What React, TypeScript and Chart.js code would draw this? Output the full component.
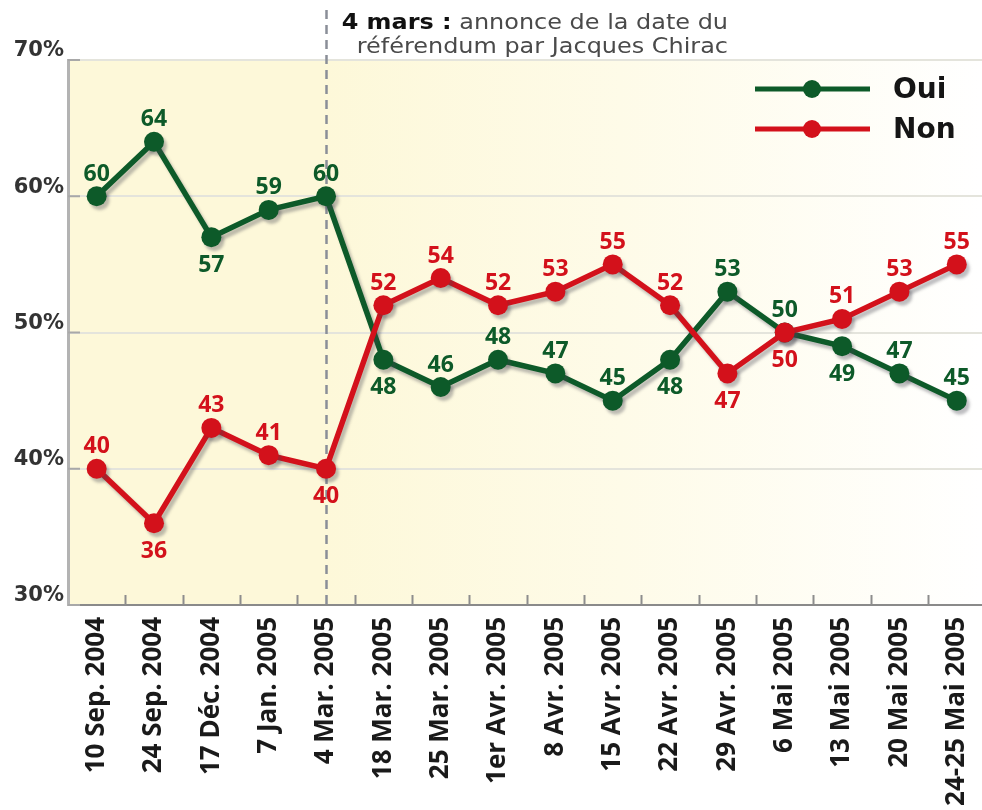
import React, { useEffect, useRef } from 'react';
import { Chart, registerables } from 'chart.js';

Chart.register(...registerables);

// ---- data ----
const DATES = [
  '10 Sep. 2004', '24 Sep. 2004', '17 Déc. 2004', '7 Jan. 2005', '4 Mar. 2005',
  '18 Mar. 2005', '25 Mar. 2005', '1er Avr. 2005', '8 Avr. 2005', '15 Avr. 2005',
  '22 Avr. 2005', '29 Avr. 2005', '6 Mai 2005', '13 Mai 2005', '20 Mai 2005', '24-25 Mai 2005',
];
const OUI = [60, 64, 57, 59, 60, 48, 46, 48, 47, 45, 48, 53, 50, 49, 47, 45];
const NON = [40, 36, 43, 41, 40, 52, 54, 52, 53, 55, 52, 47, 50, 51, 53, 55];
const Y_TICKS = [30, 40, 50, 60, 70];
const ANNOUNCE_INDEX = 4;
const ANNOUNCE_BOLD = '4 mars :';
const ANNOUNCE_LINE1 = ' annonce de la date du';
const ANNOUNCE_LINE2 = 'référendum par Jacques Chirac';

// ---- label placement (style) ----
const OUI_SIDES = ['u', 'u', 'd', 'u', 'u', 'd', 'u', 'u', 'u', 'u', 'd', 'u', 'u', 'd', 'u', 'u'];
const NON_SIDES = ['u', 'd', 'u', 'u', 'd', 'u', 'u', 'u', 'u', 'u', 'u', 'd', 'd', 'u', 'u', 'u'];

const GREEN = '#0d5a29';
const RED = '#d3111b';

const backgroundPlugin = {
  id: 'bg',
  afterLayout(chart: any) {
    // let the plot area run to the right edge of the canvas
    const xs = chart.scales.x;
    const target = chart.width;
    if (xs.right < target) {
      xs.right = target;
      xs.width = target - xs.left;
      xs.configure();
      chart.chartArea.right = target;
      chart.chartArea.width = target - chart.chartArea.left;
    }
  },
  beforeDraw(chart: any) {
    const { ctx, chartArea } = chart;
    const { left, top, right, bottom } = chartArea;
    const xa = chart.scales.x.getPixelForValue(ANNOUNCE_INDEX);
    ctx.save();
    ctx.fillStyle = '#fdf8d9';
    ctx.fillRect(left, top, xa - left, bottom - top);
    const g = ctx.createLinearGradient(xa, 0, right, 0);
    g.addColorStop(0, '#fdf8d9');
    g.addColorStop(0.45, '#fefbe8');
    g.addColorStop(1, '#ffffff');
    ctx.fillStyle = g;
    ctx.fillRect(xa, top, right - xa, bottom - top);
    ctx.restore();
  },
  beforeDatasetsDraw(chart: any) {
    const { ctx, chartArea } = chart;
    const { left, bottom } = chartArea;
    const xs = chart.scales.x;
    const ys = chart.scales.y;
    ctx.save();
    // small tick marks between categories
    ctx.strokeStyle = '#8d8d8d';
    ctx.lineWidth = 2;
    for (let i = 0; i < DATES.length - 1; i++) {
      const px = Math.round(xs.getPixelForValue(i + 0.5)) + 0.5;
      ctx.beginPath();
      ctx.moveTo(px, bottom - 10);
      ctx.lineTo(px, bottom);
      ctx.stroke();
    }
    // small ticks on the y axis
    ctx.strokeStyle = '#a8a8a8';
    Y_TICKS.forEach((v) => {
      const py = ys.getPixelForValue(v);
      ctx.beginPath();
      ctx.moveTo(left, py);
      ctx.lineTo(left + 12, py);
      ctx.stroke();
    });
    // dashed announcement line
    const xa = Math.round(xs.getPixelForValue(ANNOUNCE_INDEX)) + 0.5;
    ctx.strokeStyle = '#8a8e98';
    ctx.lineWidth = 2.5;
    ctx.setLineDash([9, 6]);
    ctx.beginPath();
    ctx.moveTo(xa, 10);
    ctx.lineTo(xa, bottom);
    ctx.stroke();
    ctx.restore();
  },
  beforeDatasetDraw(chart: any) {
    const ctx = chart.ctx;
    ctx.save();
    ctx.shadowColor = 'rgba(70,70,80,0.35)';
    ctx.shadowOffsetX = 3;
    ctx.shadowOffsetY = 4;
    ctx.shadowBlur = 3;
  },
  afterDatasetDraw(chart: any) {
    chart.ctx.restore();
  },
  afterDatasetsDraw(chart: any) {
    const { ctx } = chart;
    ctx.save();
    ctx.font = 'bold 23px "Open Sans"';
    ctx.textAlign = 'center';
    ctx.textBaseline = 'middle';
    chart.data.datasets.forEach((ds: any, di: number) => {
      const meta = chart.getDatasetMeta(di);
      ctx.fillStyle = ds.borderColor;
      meta.data.forEach((pt: any, j: number) => {
        const side = ds.labelSides[j];
        const dy = side === 'u' ? -22 : 28;
        ctx.fillText(String(ds.data[j].y), pt.x, pt.y + dy);
      });
    });
    ctx.restore();
  },
  afterDraw(chart: any) {
    const { ctx } = chart;
    ctx.save();
    // legend
    const order = [...chart.data.datasets].sort((a: any, b: any) => a.legendIndex - b.legendIndex);
    order.forEach((ds: any, k: number) => {
      const y = 89 + k * 40;
      ctx.strokeStyle = ds.borderColor;
      ctx.lineWidth = 5;
      ctx.beginPath();
      ctx.moveTo(755, y);
      ctx.lineTo(870, y);
      ctx.stroke();
      ctx.fillStyle = ds.borderColor;
      ctx.beginPath();
      ctx.arc(812, y, 9, 0, Math.PI * 2);
      ctx.fill();
      ctx.fillStyle = '#151515';
      ctx.font = 'bold 28px "DejaVu Sans"';
      ctx.textAlign = 'left';
      ctx.textBaseline = 'alphabetic';
      ctx.fillText(ds.label, 893, y + 9);
    });
    // annotation
    const sx = 1.088;
    const rightX = 728;
    ctx.textBaseline = 'alphabetic';
    ctx.textAlign = 'right';
    ctx.save();
    ctx.translate(rightX, 29);
    ctx.scale(sx, 1);
    ctx.font = '22px "DejaVu Sans"';
    ctx.fillStyle = '#4a4a4a';
    const w1 = ctx.measureText(ANNOUNCE_LINE1).width;
    ctx.fillText(ANNOUNCE_LINE1, 0, 0);
    ctx.font = 'bold 22px "DejaVu Sans"';
    ctx.fillStyle = '#111111';
    ctx.fillText(ANNOUNCE_BOLD, -w1, 0);
    ctx.restore();
    ctx.save();
    ctx.translate(rightX, 53);
    ctx.scale(sx, 1);
    ctx.font = '22px "DejaVu Sans"';
    ctx.fillStyle = '#4a4a4a';
    ctx.fillText(ANNOUNCE_LINE2, 0, 0);
    ctx.restore();
    ctx.restore();
  },
};

export default function App() {
  const ref = useRef<HTMLCanvasElement | null>(null);
  useEffect(() => {
    if (!ref.current) return;
    const chart = new Chart(ref.current, {
      type: 'line',
      data: {
        datasets: [
          {
            label: 'Non',
            data: NON.map((v, i) => ({ x: i, y: v })),
            borderColor: RED,
            backgroundColor: RED,
            pointBackgroundColor: RED,
            pointBorderColor: RED,
            borderWidth: 5.5,
            pointRadius: 10,
            pointBorderWidth: 0,
            tension: 0,
            order: 0,
            labelSides: NON_SIDES,
            legendIndex: 1,
          } as any,
          {
            label: 'Oui',
            data: OUI.map((v, i) => ({ x: i, y: v })),
            borderColor: GREEN,
            backgroundColor: GREEN,
            pointBackgroundColor: GREEN,
            pointBorderColor: GREEN,
            borderWidth: 5.5,
            pointRadius: 10,
            pointBorderWidth: 0,
            tension: 0,
            order: 1,
            labelSides: OUI_SIDES,
            legendIndex: 0,
          } as any,
        ],
      },
      options: {
        responsive: false,
        animation: false,
        devicePixelRatio: 1,
        layout: { padding: { top: 60, left: 0, right: 0, bottom: 0 } },
        plugins: {
          legend: { display: false },
          tooltip: { enabled: false },
          title: { display: false },
        },
        scales: {
          x: {
            type: 'linear',
            min: -0.5,
            max: 15.44,
            afterBuildTicks: (scale: any) => {
              scale.ticks = DATES.map((_, i) => ({ value: i }));
            },
            afterFit: (scale: any) => {
              scale.height = 205;
              scale.paddingLeft = 0;
              scale.paddingRight = 0;
            },
            grid: { display: false, drawTicks: false },
            border: { display: true, color: '#8a8a8a', width: 2 },
            ticks: {
              autoSkip: false,
              minRotation: 90,
              maxRotation: 90,
              padding: 12,
              color: '#1a1a1a',
              font: { family: '"Open Sans"', size: 26, weight: 'bold' },
              callback: (value: any) => DATES[Math.round(Number(value))] ?? '',
            },
          },
          y: {
            min: 30,
            max: 70,
            afterBuildTicks: (scale: any) => {
              scale.ticks = Y_TICKS.map((v) => ({ value: v }));
            },
            afterFit: (scale: any) => {
              scale.width = 68;
            },
            grid: { color: '#e4e4dc', lineWidth: 2, drawTicks: false },
            border: { display: true, color: '#b3b3b3', width: 3 },
            ticks: {
              padding: 4,
              labelOffset: -9,
              color: '#333333',
              font: { family: '"DejaVu Sans"', size: 21, weight: 'bold' },
              callback: (value: any) => value + '%',
            },
          },
        },
      },
      plugins: [backgroundPlugin],
    });
    return () => chart.destroy();
  }, []);
  return (
    <div style={{ position: 'absolute', left: 0, top: 0, width: 982, height: 810 }}>
      <canvas ref={ref} width={982} height={810} />
    </div>
  );
}
